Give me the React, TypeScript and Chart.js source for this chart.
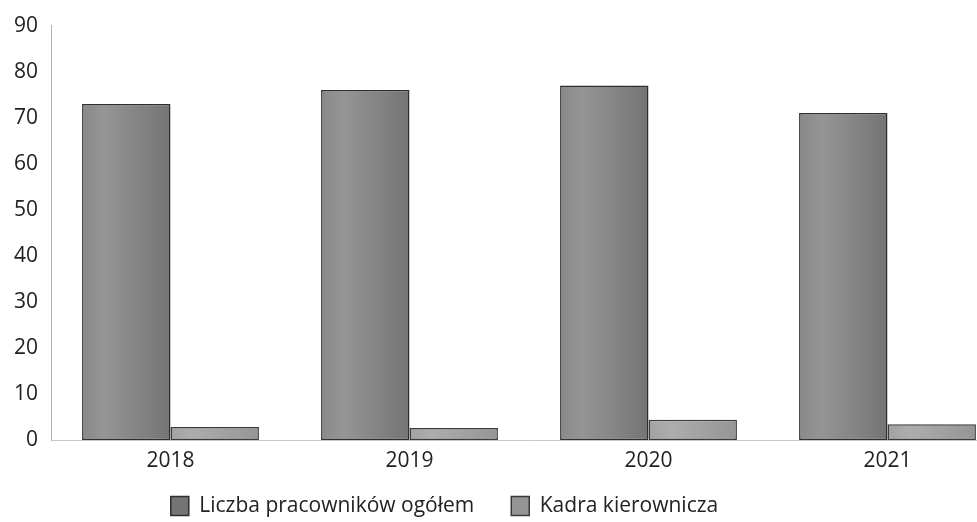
import React, { useEffect, useRef } from "react";
import { Chart, registerables } from "chart.js";

Chart.register(...registerables);

const categories = ["2018", "2019", "2020", "2021"];
const totalEmployees = [73, 76, 77, 71];
const management = [2.8, 2.6, 4.4, 3.4];
const seriesNames = ["Liczba pracowników ogółem", "Kadra kierownicza"];
const yTicks = { min: 0, max: 90, step: 10 };

const FONT = "'Open Sans', 'DejaVu Sans', sans-serif";
const LEGEND_PAD = 37;
const LEGEND_FONT = 21;
const CANVAS_H = 554;

function barFill(ctx: any, base: [string, string, string], solid: string) {
  if (ctx.type !== "data") return solid;
  const chart = ctx.chart;
  const xs = chart.scales?.x;
  if (!xs) return solid;
  const center = xs.getPixelForValue(ctx.dataIndex);
  const w = xs.getPixelForValue(1) - xs.getPixelForValue(0);
  if (!isFinite(center) || !isFinite(w) || w <= 0) return solid;
  const bw = (w * 0.74) / 2;
  const left = ctx.datasetIndex === 0 ? center - bw : center;
  const g = chart.ctx.createLinearGradient(left, 0, left + bw, 0);
  g.addColorStop(0, base[0]);
  g.addColorStop(0.25, base[1]);
  g.addColorStop(1, base[2]);
  return g;
}

const legendShift = {
  id: "legendShift",
  beforeDraw(chart: any) {
    const l = chart.legend;
    if (!l) return;
    const h = l.height;
    const itemH = Math.max(19, LEGEND_FONT * 1.2);
    l.left = 0;
    l.right = 889;
    l.top = 508 - LEGEND_PAD - itemH / 2;
    l.bottom = l.top + h;
  },
};

export default function App() {
  const ref = useRef<HTMLCanvasElement | null>(null);
  useEffect(() => {
    if (!ref.current) return;
    const chart = new Chart(ref.current, {
      type: "bar",
      data: {
        labels: categories,
        datasets: [
          {
            label: seriesNames[0],
            data: totalEmployees,
            backgroundColor: (c: any) => barFill(c, ["#888888", "#959595", "#747474"], "#848484"),
            borderColor: "#2e2e2e",
            borderWidth: 1.5,
            borderSkipped: false,
          },
          {
            label: seriesNames[1],
            data: management,
            backgroundColor: (c: any) => barFill(c, ["#a2a2a2", "#adadad", "#959595"], "#a3a3a3"),
            borderColor: "#3a3a3a",
            borderWidth: 1.5,
            borderSkipped: false,
          },
        ],
      },
      options: {
        responsive: false,
        animation: false,
        categoryPercentage: 0.74,
        barPercentage: 1,
        layout: { padding: { top: 25, left: 0, right: 3, bottom: 0 } },
        plugins: {
          tooltip: { enabled: false },
          legend: {
            position: "bottom",
            labels: {
              boxWidth: 18,
              boxHeight: 19,
              padding: LEGEND_PAD,
              color: "#222",
              font: { family: FONT, size: LEGEND_FONT },
            },
          },
        },
        scales: {
          x: {
            grid: { display: false, drawTicks: false },
            border: { display: true, color: "#c8c8c8", dash: [3, 3] },
            ticks: { color: "#222", padding: 8, font: { family: FONT, size: 21 } },
            afterFit: (s: any) => {
              const lh = s.chart.legend?.height || 0;
              s.height = Math.max(0, CANVAS_H - 440 - lh);
            },
          },
          y: {
            min: yTicks.min,
            max: yTicks.max,
            grid: { display: false, drawTicks: false },
            border: { display: true, color: "#b0b0b0", dash: [2, 2] },
            ticks: {
              stepSize: yTicks.step,
              color: "#222",
              padding: 13,
              font: { family: FONT, size: 21 },
            },
            afterFit: (s: any) => {
              s.width = 51;
            },
          },
        },
      },
      plugins: [legendShift],
    });
    chart.update();
    return () => chart.destroy();
  }, []);
  return (
    <div
      style={{
        position: "fixed",
        left: 0,
        top: 0,
        width: 977,
        height: 522,
        overflow: "hidden",
        background: "#fff",
      }}
    >
      <canvas ref={ref} width={1010} height={CANVAS_H} style={{ display: "block" }} />
    </div>
  );
}
